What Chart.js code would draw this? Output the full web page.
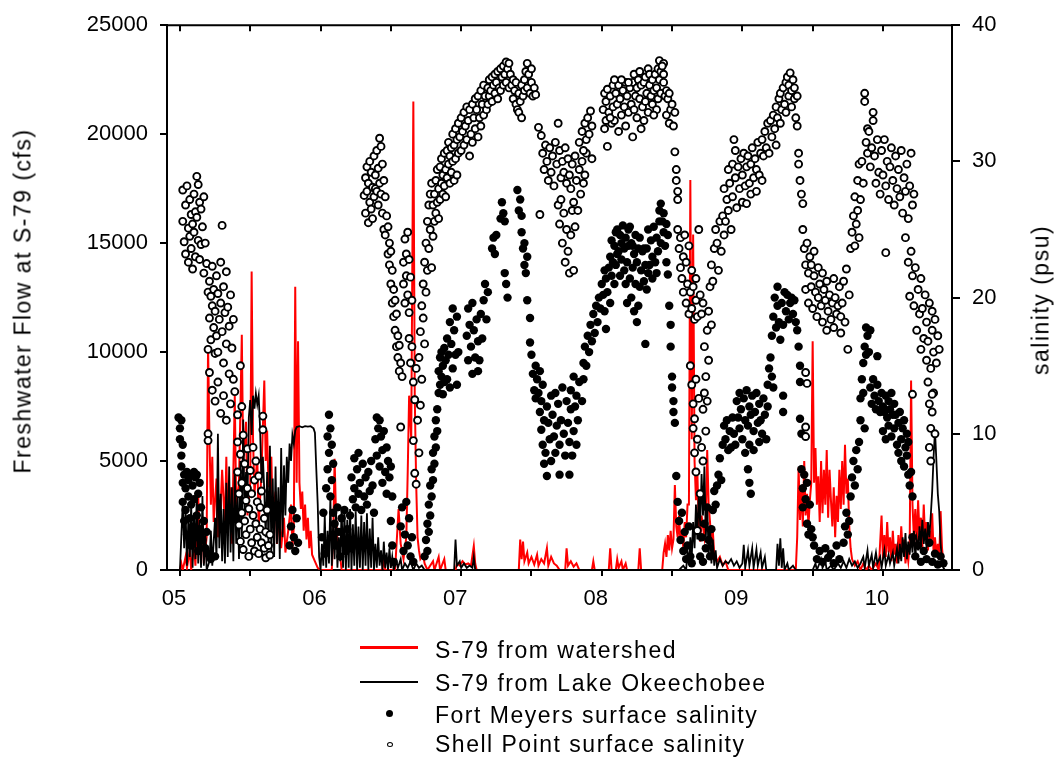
<!DOCTYPE html>
<html><head><meta charset="utf-8">
<script src="https://cdn.jsdelivr.net/npm/chart.js@4.4.1/dist/chart.umd.min.js"></script>
<style>
html,body{margin:0;padding:0;background:#fff;}
#wrap{position:relative;width:1058px;height:762px;font-family:"Liberation Sans",Arial,sans-serif;color:#000;overflow:hidden;}
#c{position:absolute;left:0;top:0;}
.txt{position:absolute;white-space:nowrap;font-size:23px;letter-spacing:1.5px;line-height:1;transform:translateY(-50%);}
.rot{position:absolute;white-space:nowrap;font-size:23px;letter-spacing:1.5px;line-height:1;transform:translate(-50%,-50%) rotate(-90deg);}
.sw{position:absolute;}
</style></head>
<body>
<div id="wrap">
<canvas id="c" width="1058" height="762"></canvas>
<div class="rot" style="left:23px;top:301px;">Freshwater Flow at S-79 (cfs)</div>
<div class="rot" style="left:1041px;top:300px;">salinity (psu)</div>
<div class="sw" style="left:360px;top:646px;width:58px;height:3px;background:#ff0000;"></div>
<div class="sw" style="left:360px;top:681px;width:58px;height:2px;background:#000;"></div>
<div class="sw" style="left:386px;top:710px;width:7px;height:7px;border-radius:50%;background:#000;"></div>
<div class="sw" style="left:387px;top:742px;width:6px;height:5px;border-radius:50%;border:1.5px solid #000;box-sizing:border-box;background:#fff;"></div>
<div class="txt" style="left:435px;top:650px;">S-79 from watershed</div>
<div class="txt" style="left:435px;top:683px;">S-79 from Lake Okeechobee</div>
<div class="txt" style="left:435px;top:715px;">Fort Meyers surface salinity</div>
<div class="txt" style="left:435px;top:744px;">Shell Point surface salinity</div>
</div>
<script>
// ---- axis ticks ----
const yearTicks = [2005,2005.5,2006,2006.5,2007,2007.5,2008,2008.5,2009,2009.5,2010];
const yearLabels = ['05','06','07','08','09','10'];
const flowTicks = [0,5000,10000,15000,20000,25000];
const salinityTicks = [0,10,20,30,40];

// ---- S-79 flow from watershed [decimal year, cfs] ----
const watershedFlow = [
[2005.00,0],[2005.01,300],[2005.02,0],[2005.04,600],[2005.05,100],[2005.07,900],[2005.08,0],[2005.10,1200],[2005.11,200],[2005.13,3500],[2005.14,800],[2005.16,2000],[2005.17,300],[2005.19,1500],[2005.20,10300],[2005.21,6000],[2005.22,3000],[2005.23,5200],[2005.24,2200],[2005.26,4200],[2005.27,1500],[2005.29,3000],[2005.30,4600],[2005.32,2000],[2005.33,5200],[2005.34,1800],[2005.36,3800],[2005.37,1200],[2005.39,8000],[2005.40,3000],[2005.42,4000],[2005.44,10800],[2005.45,5000],[2005.47,6800],[2005.48,2500],[2005.50,4000],[2005.51,13700],[2005.52,6000],[2005.53,3500],[2005.55,5200],[2005.56,2000],[2005.58,4500],[2005.60,8700],[2005.61,5000],[2005.62,6400],[2005.63,3800],[2005.65,5200],[2005.66,2500],[2005.68,3600],[2005.69,1200],[2005.71,2800],[2005.72,1000],[2005.74,2400],[2005.75,800],[2005.77,1800],[2005.79,3000],[2005.80,1000],[2005.81,2000],[2005.82,13000],[2005.83,4000],[2005.84,10500],[2005.85,4000],[2005.86,2800],[2005.87,3600],[2005.88,1800],[2005.89,3000],[2005.90,1400],[2005.91,2400],[2005.92,1000],[2005.93,1800],[2005.94,700],[2005.96,400],[2005.98,100],[2006.00,0],
[2006.08,0],[2006.09,1500],[2006.10,5100],[2006.11,2500],[2006.12,1400],[2006.14,600],[2006.15,0],[2006.44,0],[2006.45,650],[2006.46,0],[2006.53,0],[2006.555,2800],[2006.57,1200],[2006.59,500],[2006.61,1500],[2006.62,4500],[2006.63,8000],[2006.645,6000],[2006.66,21500],[2006.67,8000],[2006.68,4000],[2006.69,1500],[2006.70,900],[2006.71,500],[2006.73,700],[2006.74,300],[2006.76,0],[2006.80,400],[2006.81,0],[2006.84,600],[2006.85,0],[2006.88,500],[2006.89,0],[2006.96,0],[2006.97,300],[2006.99,200],[2007.01,400],[2007.03,250],[2007.05,300],[2007.07,200],[2007.09,1100],[2007.10,300],[2007.11,0],
[2007.41,0],[2007.42,1400],[2007.43,500],[2007.44,1300],[2007.45,400],[2007.47,800],[2007.48,300],[2007.50,600],[2007.52,250],[2007.54,700],[2007.55,200],[2007.57,500],[2007.59,300],[2007.61,1000],[2007.62,200],[2007.64,600],[2007.66,300],[2007.68,200],[2007.70,0],[2007.74,0],[2007.75,1000],[2007.76,200],[2007.78,400],[2007.80,150],[2007.82,300],[2007.84,0],[2007.93,0],[2007.94,400],[2007.95,0],
[2008.05,0],[2008.06,1000],[2008.07,0],[2008.10,0],[2008.11,500],[2008.12,100],[2008.14,400],[2008.15,0],[2008.17,300],[2008.18,0],[2008.26,0],[2008.27,1000],[2008.28,0],[2008.43,0],[2008.44,800],[2008.45,1200],[2008.46,600],[2008.47,1600],[2008.48,900],[2008.49,1800],[2008.50,1000],[2008.51,1400],[2008.52,3900],[2008.53,2000],[2008.54,1500],[2008.55,2500],[2008.56,1200],[2008.57,1800],[2008.58,1000],[2008.59,2200],[2008.60,1500],[2008.61,3000],[2008.62,3000],[2008.63,17900],[2008.64,6000],[2008.65,15400],[2008.66,5000],[2008.67,3200],[2008.68,4500],[2008.69,2000],[2008.70,1300],[2008.71,2500],[2008.73,1500],[2008.74,2200],[2008.75,5500],[2008.76,3000],[2008.77,2200],[2008.78,1200],[2008.79,1800],[2008.80,700],[2008.82,400],[2008.84,600],[2008.86,200],[2008.88,400],[2008.90,0],
[2009.38,0],[2009.39,1500],[2009.40,4700],[2009.41,2300],[2009.42,3800],[2009.43,2000],[2009.44,5000],[2009.45,2500],[2009.46,3500],[2009.47,2000],[2009.48,3200],[2009.49,4000],[2009.50,10500],[2009.51,4000],[2009.52,5600],[2009.53,3000],[2009.54,4300],[2009.55,2200],[2009.56,5000],[2009.57,2600],[2009.58,4600],[2009.59,3000],[2009.60,5500],[2009.61,2400],[2009.62,4600],[2009.63,3200],[2009.64,2000],[2009.65,3800],[2009.66,1500],[2009.67,3400],[2009.68,2200],[2009.69,4600],[2009.70,2800],[2009.71,5000],[2009.72,3000],[2009.73,5750],[2009.74,3500],[2009.75,4200],[2009.76,2000],[2009.77,1000],[2009.78,500],[2009.80,200],[2009.82,400],[2009.84,0],[2009.86,300],[2009.88,0],[2009.90,200],[2009.92,0],[2009.95,300],[2009.97,0],[2009.99,2500],
[2010.00,500],[2010.01,1600],[2010.02,600],[2010.03,2200],[2010.04,800],[2010.05,1500],[2010.06,400],[2010.07,1800],[2010.08,700],[2010.09,1200],[2010.10,300],[2010.11,1600],[2010.12,500],[2010.13,2000],[2010.14,800],[2010.15,1400],[2010.16,300],[2010.17,900],[2010.18,400],[2010.19,1200],[2010.20,8700],[2010.21,3000],[2010.22,1500],[2010.23,2800],[2010.24,1200],[2010.25,3200],[2010.26,1600],[2010.27,2400],[2010.28,1000],[2010.29,3000],[2010.30,1400],[2010.31,2200],[2010.32,900],[2010.33,1800],[2010.34,1100],[2010.35,2600],[2010.36,800],[2010.37,1500],[2010.38,600],[2010.39,1200],[2010.40,500],[2010.41,2700],[2010.42,1000],[2010.43,300]
];

// ---- S-79 flow from Lake Okeechobee [decimal year, cfs] ----
const lakeFlow = [
[2005.00,0],[2005.02,3100],[2005.03,1000],[2005.04,2800],[2005.05,200],[2005.06,2400],[2005.07,600],[2005.08,3000],[2005.09,100],[2005.10,2600],[2005.11,500],[2005.12,3600],[2005.13,300],[2005.14,2300],[2005.15,100],[2005.16,3400],[2005.17,200],[2005.18,1800],[2005.19,0],[2005.21,400],[2005.22,1800],[2005.23,200],[2005.25,2400],[2005.26,500],[2005.27,6250],[2005.28,1000],[2005.29,3500],[2005.30,400],[2005.31,2800],[2005.32,300],[2005.33,4000],[2005.34,600],[2005.35,4750],[2005.36,800],[2005.37,3800],[2005.38,400],[2005.39,4600],[2005.40,1200],[2005.41,3500],[2005.42,500],[2005.43,5000],[2005.44,1500],[2005.45,6900],[2005.46,2500],[2005.47,4500],[2005.48,3000],[2005.49,7000],[2005.50,7800],[2005.51,6200],[2005.52,8000],[2005.53,7400],[2005.54,8100],[2005.55,7600],[2005.56,8000],[2005.57,6500],[2005.58,4000],[2005.59,5200],[2005.60,3600],[2005.61,1500],[2005.62,4500],[2005.63,1000],[2005.64,5700],[2005.65,800],[2005.66,4200],[2005.67,600],[2005.68,4750],[2005.69,1200],[2005.70,3800],[2005.71,500],[2005.72,5600],[2005.73,1500],[2005.74,4800],[2005.75,2500],[2005.76,5200],[2005.77,4000],[2005.78,5800],[2005.79,5000],[2005.80,6200],[2005.81,5800],[2005.82,6400],[2005.83,6560],[2005.85,6600],[2005.87,6550],[2005.89,6600],[2005.91,6580],[2005.93,6600],[2005.95,6500],[2005.96,6300],[2005.97,4600],[2005.98,3000],[2005.99,600],[2006.00,0],
[2006.01,1200],[2006.02,200],[2006.03,2500],[2006.04,100],[2006.05,1800],[2006.06,300],[2006.07,3300],[2006.08,200],[2006.09,2200],[2006.10,500],[2006.11,2800],[2006.12,100],[2006.13,1500],[2006.14,400],[2006.15,2900],[2006.16,100],[2006.17,2600],[2006.18,0],[2006.19,2300],[2006.20,100],[2006.21,2800],[2006.22,0],[2006.23,2100],[2006.24,200],[2006.25,2700],[2006.26,0],[2006.27,2000],[2006.28,100],[2006.29,2500],[2006.30,0],[2006.31,2200],[2006.32,200],[2006.33,2600],[2006.34,0],[2006.35,1900],[2006.36,100],[2006.37,2400],[2006.38,0],[2006.39,1200],[2006.40,100],[2006.41,1500],[2006.42,200],[2006.43,900],[2006.44,0],[2006.45,1300],[2006.46,100],[2006.47,800],[2006.48,0],[2006.49,1000],[2006.50,100],[2006.51,600],[2006.52,0],[2006.54,400],[2006.55,100],[2006.57,500],[2006.58,0],[2006.60,300],[2006.62,100],[2006.64,400],[2006.66,0],[2006.68,300],[2006.70,100],[2006.72,200],[2006.74,0],[2006.95,0],[2006.96,1400],[2006.97,200],[2006.99,400],[2007.00,100],[2007.02,300],[2007.04,100],[2007.06,200],[2007.08,100],[2007.09,600],[2007.10,0],
[2008.55,0],[2008.58,200],[2008.60,0],[2008.61,800],[2008.62,300],[2008.63,1500],[2008.64,600],[2008.65,2200],[2008.66,1000],[2008.67,3000],[2008.68,1400],[2008.69,3600],[2008.70,2000],[2008.71,4400],[2008.72,2500],[2008.73,4750],[2008.74,1500],[2008.75,3000],[2008.76,600],[2008.77,2000],[2008.78,300],[2008.79,1400],[2008.80,200],[2008.81,900],[2008.82,100],[2008.84,500],[2008.86,200],[2008.88,400],[2008.90,300],[2008.92,500],[2008.94,200],[2008.96,400],[2008.98,100],
[2009.00,300],[2009.01,1160],[2009.02,100],[2009.04,900],[2009.05,200],[2009.07,1000],[2009.08,100],[2009.10,950],[2009.11,200],[2009.13,800],[2009.14,100],[2009.16,600],[2009.17,0],[2009.24,0],[2009.25,1200],[2009.26,200],[2009.27,1450],[2009.28,100],[2009.29,1000],[2009.30,0],[2009.32,300],[2009.33,0],[2009.36,200],[2009.38,0],[2009.50,0],[2009.52,300],[2009.53,0],[2009.56,500],[2009.57,100],[2009.59,400],[2009.60,0],[2009.63,200],[2009.65,0],[2009.68,300],[2009.70,100],[2009.72,400],[2009.74,100],[2009.76,500],[2009.78,200],[2009.80,400],[2009.82,100],[2009.84,300],[2009.86,600],[2009.87,100],[2009.89,900],[2009.90,200],[2009.92,700],[2009.93,100],[2009.95,800],[2009.96,300],[2009.98,600],[2009.99,100],
[2010.01,900],[2010.02,200],[2010.04,700],[2010.05,300],[2010.07,800],[2010.08,200],[2010.10,1000],[2010.11,300],[2010.12,1200],[2010.13,400],[2010.14,1500],[2010.15,600],[2010.16,1700],[2010.17,500],[2010.18,1300],[2010.19,700],[2010.20,1600],[2010.21,800],[2010.22,1800],[2010.23,600],[2010.24,1400],[2010.25,900],[2010.26,2000],[2010.27,1100],[2010.28,2300],[2010.29,1200],[2010.30,1900],[2010.31,1000],[2010.32,2200],[2010.33,1500],[2010.34,2500],[2010.35,3600],[2010.36,5200],[2010.37,6400],[2010.38,5000],[2010.39,3500],[2010.40,2700],[2010.41,1200],[2010.42,400],[2010.43,100],[2010.44,0]
];

// ---- Fort Meyers surface salinity [decimal year, psu] ----
const fortMyers = [
[2004.99,11.2],[2005.00,10.4],[2005.00,9.6],[2005.01,11.0],[2005.02,9.2],[2005.01,8.4],[2005.01,7.6],[2005.02,6.4],[2005.02,5.0],[2005.03,7.0],[2005.03,3.6],[2005.04,6.0],[2005.04,4.4],[2005.05,7.2],[2005.05,2.6],[2005.06,5.4],[2005.06,6.6],[2005.07,3.8],[2005.07,7.0],[2005.08,4.8],[2005.08,1.8],[2005.09,6.2],[2005.09,3.2],[2005.10,7.2],[2005.10,5.2],[2005.11,2.4],[2005.11,6.8],[2005.12,4.0],[2005.12,7.0],[2005.13,5.6],[2005.13,1.4],[2005.14,6.4],[2005.14,3.0],[2005.15,4.6],[2005.16,2.2],[2005.17,3.6],[2005.18,1.6],[2005.19,2.8],[2005.20,1.2],[2005.22,0.8],[2005.25,1.0],[2005.78,1.8],[2005.79,3.2],[2005.80,4.4],[2005.81,2.4],[2005.82,1.4],[2005.83,3.8],[2005.84,2.0],
[2006.04,6.0],[2006.05,9.8],[2006.05,7.4],[2006.06,11.4],[2006.06,8.6],[2006.07,10.4],[2006.07,5.4],[2006.08,9.2],[2006.08,6.6],[2006.09,4.2],[2006.09,7.8],[2006.01,2.4],[2006.02,4.2],[2006.03,1.2],[2006.10,3.4],[2006.11,1.8],[2006.12,4.6],[2006.13,2.8],[2006.14,1.0],[2006.15,3.8],[2006.16,2.0],[2006.17,4.4],[2006.18,1.4],[2006.19,3.0],[2006.20,2.2],[2006.21,4.0],[2006.22,1.6],
[2006.22,6.8],[2006.23,5.2],[2006.24,8.2],[2006.24,6.0],[2006.25,4.6],[2006.26,7.4],[2006.27,5.6],[2006.27,8.6],[2006.28,6.4],[2006.29,4.4],[2006.30,7.8],[2006.31,5.4],[2006.32,6.8],[2006.33,4.8],[2006.34,7.2],[2006.35,5.8],[2006.36,8.0],[2006.37,6.2],[2006.38,4.2],
[2006.39,9.6],[2006.40,11.2],[2006.40,8.4],[2006.41,10.4],[2006.42,11.0],[2006.42,7.6],[2006.43,9.8],[2006.44,8.8],[2006.44,6.4],[2006.45,10.2],[2006.46,7.2],[2006.47,9.0],[2006.47,5.6],[2006.48,8.0],[2006.49,6.8],[2006.50,7.6],[2006.51,5.4],[2006.50,3.6],[2006.51,1.8],[2006.52,0.6],
[2006.57,3.2],[2006.58,4.6],[2006.59,1.4],[2006.60,2.6],[2006.61,5.0],[2006.62,1.8],[2006.63,3.8],[2006.64,1.0],[2006.65,2.4],[2006.66,0.6],
[2006.74,1.0],[2006.75,2.2],[2006.76,3.4],[2006.76,1.4],[2006.77,4.8],[2006.77,2.8],[2006.78,6.2],[2006.78,4.0],[2006.79,7.4],[2006.79,5.4],[2006.80,8.6],[2006.80,6.6],[2006.81,9.8],[2006.81,7.8],[2006.82,11.0],[2006.82,9.0],[2006.83,11.8],[2006.83,10.2],
[2006.84,13.0],[2006.84,14.6],[2006.85,15.6],[2006.85,13.6],[2006.86,16.0],[2006.86,14.2],[2006.87,12.9],[2006.87,15.0],[2006.88,16.3],[2006.88,13.8],[2006.89,15.4],[2006.90,14.0],[2006.90,17.0],[2006.91,15.8],[2006.92,13.4],[2006.92,18.2],[2006.93,16.6],[2006.94,19.2],[2006.94,14.8],[2006.95,17.6],[2006.96,15.8],[2006.97,13.6],[2006.97,18.6],[2006.98,16.0],
[2007.04,17.2],[2007.05,19.2],[2007.05,15.4],[2007.06,18.0],[2007.07,16.4],[2007.08,19.6],[2007.08,14.4],[2007.09,17.6],[2007.10,15.6],[2007.11,18.4],[2007.12,16.8],[2007.12,14.6],[2007.13,15.4],[2007.14,18.8],[2007.15,17.0],[2007.16,19.8],[2007.17,21.0],[2007.18,18.4],[2007.19,20.4],
[2007.22,23.6],[2007.23,24.4],[2007.24,23.2],[2007.25,24.6],[2007.28,25.8],[2007.29,27.0],[2007.30,26.2],[2007.31,25.6],[2007.31,21.8],[2007.32,21.0],[2007.33,20.0],[2007.40,27.9],[2007.41,26.4],[2007.42,27.2],[2007.43,26.0],
[2007.43,24.8],[2007.44,23.6],[2007.45,22.4],[2007.45,24.0],[2007.46,21.8],[2007.47,23.0],[2007.47,19.8],[2007.49,18.5],[2007.49,16.7],[2007.50,15.8],
[2007.51,14.4],[2007.52,13.2],[2007.53,15.0],[2007.53,12.6],[2007.54,14.0],[2007.55,13.0],[2007.56,11.6],[2007.56,14.6],[2007.57,12.4],[2007.57,10.3],[2007.58,9.2],[2007.58,13.6],[2007.59,11.0],[2007.59,7.8],[2007.60,8.6],[2007.61,12.0],[2007.61,6.9],[2007.62,10.8],[2007.63,9.6],[2007.64,12.8],[2007.64,8.0],
[2007.65,11.4],[2007.66,9.8],[2007.67,13.0],[2007.67,8.6],[2007.68,10.6],[2007.69,12.2],[2007.70,9.2],[2007.70,7.0],[2007.71,11.0],[2007.72,13.4],[2007.73,10.0],[2007.74,8.4],[2007.75,12.4],[2007.76,10.8],[2007.77,9.4],
[2007.77,7.0],[2007.78,11.8],[2007.79,8.4],[2007.80,10.2],[2007.81,12.0],[2007.82,9.2],[2007.83,11.0],[2007.78,13.2],[2007.80,14.2],[2007.82,12.8],[2007.84,13.8],[2007.86,12.4],[2007.87,14.0],
[2007.87,15.2],[2007.88,16.4],[2007.89,15.0],[2007.90,17.2],[2007.91,16.0],[2007.92,18.0],[2007.93,16.8],[2007.94,18.8],[2007.95,17.4],[2007.96,19.4],[2007.97,18.2],
[2007.98,20.0],[2007.99,19.2],[2008.00,21.0],[2008.01,20.2],[2008.02,22.0],[2008.02,19.0],[2008.03,21.4],[2008.04,20.4],[2008.05,22.2],[2008.06,19.6],[2008.03,17.7],
[2008.06,23.0],[2008.07,24.2],[2008.08,22.6],[2008.09,23.8],[2008.10,24.8],[2008.07,21.6],[2008.09,21.0],[2008.11,23.2],[2008.14,24.0],[2008.16,22.0],[2008.19,25.0],[2008.22,23.8],[2008.27,24.4],[2008.30,23.6],[2008.33,21.8],[2008.36,21.4],[2008.39,21.8],[2008.42,24.0],[2008.46,25.4],[2008.47,24.6],
[2008.10,22.4],[2008.11,25.0],[2008.12,23.4],[2008.13,21.6],[2008.13,24.6],[2008.14,22.8],[2008.15,25.3],[2008.16,23.6],[2008.17,21.0],[2008.17,24.4],[2008.18,22.6],[2008.19,23.8],[2008.20,25.2],[2008.20,21.4],[2008.21,24.0],[2008.22,22.2],[2008.23,23.2],[2008.24,21.0],[2008.24,24.6],[2008.25,22.6],[2008.26,23.6],[2008.27,20.8],[2008.28,22.0],[2008.29,23.4],[2008.30,21.2],[2008.31,22.4],[2008.32,20.6],
[2008.18,19.6],[2008.21,20.0],[2008.23,19.0],[2008.26,19.4],[2008.31,16.6],[2008.25,18.2],
[2008.32,23.6],[2008.33,25.0],[2008.34,22.4],[2008.35,24.2],[2008.36,23.0],[2008.37,25.2],[2008.38,22.6],[2008.39,24.4],[2008.40,23.4],[2008.41,25.6],[2008.41,26.4],[2008.42,26.9],[2008.43,25.6],[2008.44,24.8],[2008.44,26.2],
[2008.45,23.8],[2008.46,22.6],[2008.47,21.7],[2008.48,19.4],[2008.49,18.0],[2008.49,16.4],[2008.50,14.2],[2008.50,13.4],[2008.51,12.4],[2008.51,11.6],[2008.52,10.8],[2008.53,6.9],
[2008.54,5.0],[2008.55,3.6],[2008.56,2.2],[2008.57,4.2],[2008.58,1.4],[2008.59,2.8],[2008.60,0.8],[2008.61,1.8],[2008.62,3.2],[2008.63,1.0],[2008.64,0.5],
[2008.70,1.0],[2008.71,2.4],[2008.72,0.6],[2008.73,3.4],[2008.74,1.6],[2008.75,4.6],[2008.76,2.2],[2008.77,1.0],[2008.78,3.0],[2008.79,4.4],[2008.80,5.8],[2008.81,4.8],[2008.82,6.2],[2008.83,7.0],[2008.84,8.2],[2008.85,6.6],
[2008.86,9.2],[2008.87,10.6],[2008.88,9.6],[2008.89,11.0],[2008.90,8.8],[2008.91,10.2],[2008.92,9.0],[2008.93,11.2],[2008.94,10.0],[2008.95,9.2],
[2008.96,12.4],[2008.97,11.2],[2008.98,10.4],[2008.98,13.0],[2008.99,11.8],[2009.00,9.6],[2009.01,12.6],[2009.02,11.0],[2009.02,8.6],[2009.03,13.2],[2009.04,10.6],[2009.05,12.0],[2009.05,9.2],[2009.06,11.4],[2009.07,12.8],[2009.08,10.2],[2009.08,8.8],[2009.09,11.6],[2009.10,13.0],[2009.11,10.8],[2009.12,9.4],[2009.12,12.2],[2009.13,11.0],[2009.14,10.0],[2009.15,12.6],[2009.16,11.4],[2009.17,9.6],[2009.18,12.0],
[2009.04,7.4],[2009.05,6.4],[2009.06,5.6],
[2009.18,13.6],[2009.19,14.8],[2009.20,15.6],[2009.21,14.2],[2009.22,13.4],
[2009.21,17.2],[2009.22,18.6],[2009.23,20.0],[2009.24,17.8],[2009.25,19.4],[2009.25,20.8],[2009.26,18.2],[2009.27,16.9],[2009.28,19.6],[2009.29,18.0],[2009.30,20.4],
[2009.31,19.0],[2009.32,20.2],[2009.33,18.4],[2009.34,19.6],[2009.35,20.0],[2009.36,18.8],[2009.37,19.8],[2009.38,18.2],[2009.39,17.6],[2009.40,16.4],[2009.41,15.0],[2009.29,12.8],[2009.29,11.6],
[2009.41,13.8],[2009.41,11.1],[2009.42,10.0],
[2009.42,7.4],[2009.43,6.0],[2009.43,4.6],[2009.44,7.0],[2009.45,5.2],[2009.46,3.4],[2009.46,6.4],[2009.47,2.6],[2009.48,4.8],[2009.49,3.0],[2009.50,2.4],
[2009.51,1.8],[2009.53,0.8],[2009.55,1.4],[2009.57,0.6],[2009.59,1.6],[2009.61,0.9],[2009.63,1.2],[2009.65,0.5],[2009.67,1.8],[2009.69,0.8],
[2009.72,2.0],[2009.73,3.2],[2009.74,4.2],[2009.75,2.6],[2009.76,3.6],[2009.77,5.4],[2009.78,6.8],[2009.79,8.0],[2009.80,6.2],[2009.81,8.8],[2009.82,7.4],
[2009.83,9.4],[2009.84,11.0],[2009.84,12.6],[2009.85,14.0],[2009.86,15.2],[2009.86,13.0],[2009.87,10.4],
[2009.87,16.4],[2009.88,17.8],[2009.88,15.8],[2009.89,17.2],[2009.90,16.0],[2009.91,17.6],[2009.96,15.7],
[2009.91,13.4],[2009.92,12.2],[2009.93,14.0],[2009.94,12.8],[2009.95,11.8],[2009.96,13.6],[2009.97,12.4],[2009.98,11.6],[2009.99,13.0],[2010.00,12.0],[2010.01,11.6],[2010.02,12.8],[2010.03,11.2],[2010.04,12.4],[2010.05,11.8],[2010.06,13.0],[2010.07,11.4],[2010.08,12.2],
[2010.00,10.2],[2010.02,9.6],[2010.04,10.6],[2010.06,9.8],[2010.08,10.4],[2010.09,11.4],[2010.10,9.2],[2010.11,10.8],[2010.12,11.6],[2010.13,9.6],[2010.14,10.4],[2010.15,11.0],[2010.16,9.0],[2010.17,10.0],[2010.18,9.4],
[2010.11,8.6],[2010.13,8.0],[2010.15,7.6],[2010.17,8.4],[2010.18,7.0],[2010.19,6.2],[2010.20,7.2],[2010.21,5.4],
[2010.21,2.4],[2010.23,1.0],[2010.25,1.8],[2010.27,0.6],[2010.29,1.4],[2010.31,0.8],[2010.33,2.0],[2010.35,0.6],[2010.37,1.2],[2010.39,0.4],[2010.41,1.0],[2010.43,0.5]
];

// ---- Shell Point surface salinity [decimal year, psu] ----
const shellPoint = [
[2005.02,27.9],[2005.02,25.6],[2005.03,24.1],[2005.04,26.8],[2005.04,23.2],[2005.05,28.2],[2005.06,25.1],[2005.06,22.6],[2005.07,27.2],[2005.07,24.5],[2005.08,26.1],[2005.08,23.6],[2005.09,25.4],[2005.09,22.1],[2005.10,27.6],[2005.10,24.8],[2005.11,26.3],[2005.11,23.0],[2005.12,28.9],[2005.12,25.9],[2005.13,28.3],[2005.13,24.2],[2005.14,27.0],[2005.14,22.8],[2005.15,26.5],[2005.15,23.9],[2005.16,25.2],[2005.17,27.4],[2005.17,21.8],[2005.18,24.0],[2005.19,22.5],[2005.20,20.4],[2005.20,10.0],[2005.20,9.5],
[2005.21,21.2],[2005.21,18.5],[2005.22,20.1],[2005.22,16.9],[2005.23,19.4],[2005.23,22.3],[2005.24,17.8],[2005.24,20.6],[2005.25,15.9],[2005.25,19.0],[2005.26,21.6],[2005.26,17.2],[2005.27,20.3],[2005.27,16.0],[2005.28,18.4],[2005.29,22.6],[2005.29,19.6],[2005.30,25.3],[2005.30,17.5],[2005.31,20.8],[2005.31,15.2],[2005.32,18.9],[2005.33,21.9],[2005.33,16.6],[2005.34,19.3],[2005.35,14.4],[2005.35,17.9],[2005.36,20.2],[2005.37,16.3],[2005.38,14.0],[2005.38,18.4],
[2005.20,16.2],[2005.21,14.5],[2005.23,13.2],[2005.25,12.4],[2005.27,13.8],[2005.29,11.5],[2005.31,12.8],[2005.33,11.0],[2005.36,12.2],[2005.39,13.1],[2005.41,11.4],[2005.43,15.0],[2005.44,12.0],
[2005.41,9.4],[2005.41,7.2],[2005.42,5.6],[2005.42,3.3],[2005.43,8.5],[2005.43,2.1],[2005.44,6.4],[2005.44,4.2],[2005.45,9.9],[2005.45,1.5],[2005.46,7.8],[2005.46,3.6],[2005.47,5.1],[2005.47,2.6],[2005.48,8.9],[2005.48,6.0],[2005.49,4.5],[2005.49,1.0],[2005.50,7.3],[2005.50,3.0],[2005.51,5.6],[2005.51,2.0],[2005.52,9.0],[2005.52,4.0],[2005.53,6.6],[2005.53,1.4],[2005.54,3.4],[2005.54,8.0],[2005.55,5.0],[2005.55,2.4],[2005.56,6.9],[2005.56,1.2],[2005.57,4.6],[2005.57,3.0],[2005.58,2.0],[2005.58,5.8],[2005.59,11.3],[2005.59,10.3],[2005.60,3.8],[2005.60,1.6],[2005.61,2.8],[2005.61,0.9],[2005.62,4.4],[2005.63,1.8],[2005.64,2.6],[2005.64,1.1],
[2006.31,27.5],[2006.32,28.8],[2006.32,26.2],[2006.33,29.6],[2006.33,27.8],[2006.34,25.5],[2006.34,28.4],[2006.35,30.0],[2006.35,27.0],[2006.36,29.2],[2006.36,26.5],[2006.37,28.1],[2006.37,25.8],[2006.38,30.4],[2006.38,27.4],[2006.39,29.0],[2006.39,28.0],[2006.40,30.8],[2006.40,27.8],[2006.41,29.5],[2006.41,26.8],[2006.42,31.7],[2006.42,28.4],[2006.43,31.1],[2006.43,27.6],[2006.44,29.8],[2006.44,26.2],[2006.45,28.6],[2006.45,25.0],[2006.46,27.4],[2006.46,24.6],[2006.47,26.0],[2006.48,25.2],[2006.48,23.2],
[2006.49,24.0],[2006.49,22.4],[2006.50,23.4],[2006.50,21.0],[2006.51,22.0],[2006.51,19.6],[2006.52,20.6],[2006.52,18.6],[2006.53,19.8],[2006.53,17.6],[2006.54,16.4],[2006.54,18.8],[2006.55,15.6],[2006.55,17.2],[2006.56,14.6],[2006.56,16.5],[2006.57,15.2],[2006.57,10.5],[2006.58,14.2],
[2006.59,22.6],[2006.59,21.0],[2006.60,24.3],[2006.60,19.6],[2006.61,23.2],[2006.61,21.6],[2006.62,24.8],[2006.62,20.2],[2006.63,22.8],[2006.63,18.9],[2006.64,21.5],[2006.65,19.8],
[2006.63,17.0],[2006.64,15.2],[2006.65,16.4],[2006.66,13.8],[2006.66,9.5],[2006.67,12.5],[2006.67,7.1],[2006.68,6.3],[2006.68,14.8],[2006.69,11.0],[2006.70,8.6],[2006.71,12.1],
[2006.70,15.6],[2006.71,17.5],[2006.72,19.4],[2006.72,14.0],[2006.73,21.0],[2006.73,18.5],[2006.74,22.6],[2006.74,16.6],[2006.75,24.0],[2006.75,20.4],[2006.76,25.6],[2006.76,22.0],[2006.77,26.8],[2006.77,23.6],[2006.78,27.6],[2006.78,25.0],[2006.79,28.4],[2006.79,22.2],[2006.80,26.8],[2006.80,24.5],
[2006.81,27.6],[2006.81,25.6],[2006.82,28.6],[2006.82,26.2],[2006.83,27.0],[2006.83,29.4],[2006.84,28.0],[2006.84,25.8],[2006.85,29.6],[2006.85,27.2],[2006.86,28.4],[2006.86,30.2],[2006.87,27.6],[2006.87,29.0],[2006.88,30.6],[2006.88,28.2],[2006.89,29.4],[2006.89,27.4],[2006.90,30.8],[2006.90,28.8],[2006.91,29.8],[2006.91,31.4],[2006.92,28.4],[2006.92,30.4],[2006.93,31.0],[2006.93,29.2],[2006.94,32.0],[2006.94,30.0],[2006.95,28.6],[2006.95,31.2],[2006.96,32.4],[2006.96,30.2],[2006.97,29.0],[2006.97,31.6],
[2006.98,32.8],[2006.98,30.6],[2006.99,31.8],[2007.00,33.2],[2007.00,30.8],[2007.01,32.2],[2007.02,33.6],[2007.02,31.2],[2007.03,32.6],[2007.04,34.0],[2007.04,31.6],[2007.05,33.0],[2007.06,30.4],[2007.06,33.8],[2007.07,32.0],[2007.08,34.2],[2007.08,31.4],[2007.09,33.2],[2007.10,34.6],[2007.10,32.4],[2007.11,33.8],[2007.12,31.8],[2007.12,34.8],[2007.13,33.2],[2007.14,35.2],[2007.14,32.6],[2007.15,34.2],[2007.16,35.6],[2007.16,33.4],[2007.17,34.8],[2007.18,33.8],
[2007.19,35.4],[2007.19,34.2],[2007.20,36.0],[2007.20,34.8],[2007.21,35.2],[2007.22,36.2],[2007.22,34.4],[2007.23,35.6],[2007.24,36.4],[2007.24,35.0],[2007.25,35.8],[2007.26,34.6],[2007.26,36.6],[2007.27,35.4],[2007.28,36.8],[2007.28,35.2],[2007.29,36.2],[2007.30,37.0],[2007.30,35.6],[2007.31,36.4],[2007.32,37.3],[2007.32,35.8],[2007.33,36.8],[2007.34,37.2],[2007.34,35.4],[2007.35,36.4],
[2007.36,35.6],[2007.37,36.0],[2007.37,34.6],[2007.38,35.2],[2007.39,34.2],[2007.39,35.8],[2007.40,33.8],[2007.41,35.0],[2007.41,33.6],[2007.42,34.4],[2007.43,35.6],[2007.43,33.2],[2007.44,34.8],[2007.45,36.0],[2007.45,35.2],
[2007.46,36.6],[2007.47,37.2],[2007.47,35.4],[2007.48,36.4],[2007.49,35.0],[2007.50,36.8],[2007.50,35.8],[2007.51,34.8],[2007.52,35.4],[2007.53,34.9],[2007.55,32.5],[2007.69,32.8],
[2007.57,31.9],[2007.58,30.6],[2007.59,29.4],[2007.60,31.2],[2007.61,30.0],[2007.62,28.6],[2007.63,31.0],[2007.64,29.2],[2007.65,30.4],[2007.66,28.2],[2007.67,31.4],[2007.68,29.8],[2007.70,30.8],[2007.71,28.8],[2007.72,30.0],[2007.73,29.2],[2007.74,31.0],[2007.75,28.4],[2007.76,30.2],[2007.77,29.0],[2007.56,26.1],
[2007.69,26.8],[2007.70,25.4],[2007.71,27.2],[2007.72,24.0],[2007.73,26.2],[2007.74,22.6],[2007.75,25.0],[2007.76,23.4],[2007.77,21.8],[2007.78,24.6],[2007.79,26.4],[2007.80,22.0],
[2007.78,28.0],[2007.79,29.8],[2007.80,27.0],[2007.81,30.4],[2007.81,25.2],[2007.82,28.6],[2007.83,26.4],[2007.84,29.4],[2007.85,27.6],[2007.86,30.0],[2007.87,28.4],[2007.88,29.0],[2007.89,30.6],
[2007.84,31.4],[2007.86,32.2],[2007.87,30.8],[2007.88,32.8],[2007.89,31.6],[2007.90,33.2],[2007.91,32.0],[2007.92,33.7],[2007.93,32.6],[2007.93,30.2],
[2008.01,33.8],[2008.02,35.0],[2008.02,32.4],[2008.03,34.4],[2008.04,31.1],[2008.04,35.3],[2008.05,33.6],[2008.06,34.8],[2008.07,32.8],[2008.08,35.6],[2008.08,34.0],[2008.09,33.0],[2008.10,35.0],[2008.11,34.2],[2008.12,32.2],[2008.12,35.6],[2008.13,34.6],[2008.14,33.4],[2008.15,35.2],[2008.16,34.0],[2008.17,35.8],[2008.17,32.6],[2008.18,34.8],[2008.19,33.6],[2008.20,35.4],[2008.21,34.2],[2008.22,31.8],[2008.22,35.8],[2008.23,33.8],[2008.24,34.8],
[2008.03,33.0],[2008.06,33.2],[2008.09,36.0],[2008.14,36.0],[2008.19,35.8],[2008.23,36.4],[2008.27,36.6],[2008.30,33.0],[2008.33,36.8],[2008.36,34.2],[2008.39,33.8],[2008.41,37.4],[2008.44,37.2],
[2008.25,35.4],[2008.25,33.2],[2008.26,36.0],[2008.27,34.6],[2008.28,35.6],[2008.28,32.4],[2008.29,34.0],[2008.30,35.8],[2008.31,34.4],[2008.31,36.2],[2008.32,35.0],[2008.33,33.6],[2008.34,35.6],[2008.34,36.4],[2008.35,34.8],[2008.36,36.0],[2008.37,35.2],[2008.37,33.4],[2008.38,36.4],[2008.39,35.4],[2008.40,36.8],[2008.40,34.6],[2008.41,36.0],[2008.42,35.0],[2008.42,36.6],[2008.43,37.0],[2008.44,35.8],[2008.44,36.4],[2008.45,34.8],
[2008.46,35.2],[2008.46,33.4],[2008.47,34.6],[2008.48,32.8],[2008.48,35.0],[2008.49,33.8],[2008.50,34.2],[2008.51,32.6],[2008.52,33.6],[2008.52,30.7],[2008.53,29.4],[2008.53,28.6],[2008.54,27.8],[2008.54,27.2],
[2008.54,25.0],[2008.55,23.6],[2008.56,24.4],[2008.56,22.2],[2008.57,21.4],[2008.58,23.0],[2008.58,20.4],[2008.59,24.6],[2008.60,22.6],[2008.60,19.6],[2008.61,21.0],[2008.62,23.8],[2008.62,18.8],[2008.63,20.4],[2008.64,22.0],[2008.64,19.2],[2008.65,20.8],[2008.66,18.4],[2008.67,21.4],[2008.67,19.8],[2008.68,18.6],[2008.69,25.0],[2008.70,20.2],[2008.71,18.8],[2008.72,19.6],
[2008.63,15.0],[2008.64,13.6],[2008.65,12.2],[2008.65,10.4],[2008.66,11.1],[2008.66,8.6],[2008.67,14.0],[2008.67,7.2],[2008.68,9.6],[2008.68,2.9],[2008.69,12.6],[2008.70,5.6],[2008.71,9.0],[2008.72,11.8],
[2008.72,8.0],[2008.73,13.0],[2008.73,16.4],[2008.74,14.2],[2008.74,10.2],[2008.75,17.6],[2008.75,12.4],[2008.76,19.0],[2008.76,15.4],[2008.77,20.8],[2008.78,18.0],[2008.78,22.4],[2008.79,21.2],[2008.80,23.6],[2008.81,25.0],[2008.82,24.0],[2008.83,22.0],[2008.84,25.6],
[2008.85,23.4],[2008.86,26.0],[2008.87,24.6],[2008.87,28.0],[2008.88,25.6],[2008.89,27.2],[2008.90,29.4],[2008.90,26.4],[2008.91,28.4],[2008.92,25.0],[2008.93,29.8],[2008.93,27.4],[2008.94,31.6],[2008.95,28.8],[2008.95,30.8],[2008.96,26.6],[2008.97,29.6],[2008.98,28.0],[2008.99,30.2],[2009.00,27.0],[2009.00,29.0],[2009.01,30.6],[2009.02,28.2],[2009.03,26.9],[2009.03,29.6],[2009.04,30.4],[2009.05,28.4],[2009.06,27.6],[2009.06,29.8],[2009.07,31.0],[2009.08,28.8],[2009.09,30.2],[2009.10,27.8],[2009.10,29.4],[2009.11,31.4],[2009.12,29.0],[2009.13,30.6],[2009.14,28.6],
[2009.14,31.6],[2009.15,30.4],[2009.16,32.2],[2009.17,31.0],[2009.18,32.8],[2009.19,30.6],[2009.20,33.0],[2009.21,31.8],[2009.22,33.4],[2009.23,32.4],[2009.24,34.0],[2009.24,31.2],[2009.25,33.2],[2009.26,34.6],[2009.27,32.8],[2009.27,35.0],[2009.28,33.8],[2009.29,35.4],[2009.30,34.2],[2009.31,35.8],[2009.31,33.6],[2009.32,36.2],[2009.33,34.8],[2009.33,35.6],[2009.34,36.5],[2009.35,35.2],[2009.35,34.0],[2009.36,36.0],[2009.37,35.4],[2009.37,34.6],[2009.38,33.2],[2009.39,34.8],[2009.39,32.6],
[2009.40,30.6],[2009.40,29.8],[2009.41,28.6],[2009.42,27.6],[2009.43,26.9],[2009.43,25.0],
[2009.44,23.6],[2009.45,22.4],[2009.45,20.6],[2009.46,24.0],[2009.47,21.8],[2009.47,19.6],[2009.48,23.0],[2009.49,20.8],[2009.49,22.4],[2009.50,19.2],[2009.51,21.6],[2009.51,23.4],[2009.52,20.4],[2009.53,18.6],[2009.54,22.2],[2009.54,20.0],[2009.55,21.0],[2009.56,19.4],[2009.57,18.2],[2009.57,21.8],[2009.58,20.6],[2009.59,19.8],[2009.60,17.6],[2009.60,21.2],[2009.61,19.0],[2009.62,20.2],[2009.63,18.4],[2009.64,19.6],[2009.65,21.4],[2009.65,17.8],[2009.66,20.0],[2009.67,18.8],[2009.68,19.4],[2009.69,20.8],[2009.70,17.4],[2009.70,18.6],
[2009.45,14.5],[2009.46,13.7],[2009.45,10.5],[2009.45,9.8],
[2009.71,19.6],[2009.72,21.2],[2009.73,18.2],[2009.74,22.1],[2009.75,16.2],[2009.76,20.2],[2009.77,23.6],
[2009.78,24.8],[2009.79,26.0],[2009.80,23.8],[2009.81,25.4],[2009.82,26.4],[2009.83,24.4],[2009.80,27.4],[2009.82,28.6],[2009.83,29.8],[2009.84,27.2],[2009.85,30.0],[2009.86,28.4],
[2009.87,35.0],[2009.87,34.4],[2009.88,31.4],[2009.89,32.4],[2009.93,33.6],[2009.93,33.0],
[2009.89,30.6],[2009.90,32.2],[2009.91,29.6],[2009.92,31.0],[2009.94,30.4],[2009.95,28.4],[2009.96,31.6],[2009.97,29.2],[2009.98,27.6],
[2009.99,30.8],[2010.00,29.0],[2010.01,31.6],[2010.02,28.2],[2010.03,30.0],[2010.04,27.2],[2010.05,29.6],[2010.06,31.0],[2010.07,28.6],[2010.08,26.8],[2010.09,30.4],[2010.10,28.0],[2010.11,29.4],[2010.12,27.4],[2010.13,30.8],[2010.14,26.2],[2010.15,28.8],[2010.16,27.8],[2010.17,29.8],[2010.18,25.8],[2010.19,28.2],[2010.20,30.6],[2010.21,26.8],[2010.22,27.6],[2010.02,23.3],
[2010.16,24.4],[2010.18,22.6],[2010.19,20.1],[2010.20,23.4],[2010.21,21.6],[2010.22,19.4],[2010.23,22.2],[2010.24,17.6],[2010.25,20.6],[2010.26,18.8],[2010.27,16.2],[2010.27,21.4],[2010.28,19.2],[2010.29,17.0],[2010.30,20.2],[2010.31,15.4],[2010.31,18.2],[2010.32,16.8],[2010.33,19.6],[2010.34,14.8],[2010.35,17.6],[2010.35,19.0],[2010.36,16.0],[2010.37,18.4],[2010.38,15.2],[2010.39,17.2],[2010.40,16.2],
[2010.32,13.8],[2010.33,12.2],[2010.34,10.4],[2010.35,11.6],[2010.36,13.0],[2010.37,10.0],[2010.21,12.9],[2010.35,12.9],[2010.33,9.0],[2010.34,8.0]
];

const X_MIN = 2004.908, X_MAX = 2010.491;
const FONT = '"Liberation Sans", Arial, sans-serif';
const toXY = arr => arr.map(p => ({x: p[0], y: p[1]}));

const frameTop = {
  id: 'frameTop',
  afterDraw(chart) {
    const ctx = chart.ctx, a = chart.chartArea, xs = chart.scales.x;
    ctx.save();
    ctx.strokeStyle = '#000'; ctx.lineWidth = 2;
    ctx.beginPath();
    ctx.moveTo(a.left - 1, a.top); ctx.lineTo(a.right + 1, a.top);
    yearTicks.forEach(v => { const px = Math.round(xs.getPixelForValue(v)); ctx.moveTo(px, a.top); ctx.lineTo(px, a.top + 6); });
    ctx.stroke();
    ctx.restore();
  }
};

new Chart(document.getElementById('c'), {
  type: 'line',
  data: {
    datasets: [
      {label: 'S-79 from watershed', data: toXY(watershedFlow), xAxisID: 'x', yAxisID: 'y', borderColor: '#ff0000', borderWidth: 2, pointRadius: 0, tension: 0, fill: false, order: 4},
      {label: 'S-79 from Lake Okeechobee', data: toXY(lakeFlow), xAxisID: 'x', yAxisID: 'y', borderColor: '#000000', borderWidth: 1.8, pointRadius: 0, tension: 0, fill: false, order: 3},
      {label: 'Fort Meyers surface salinity', data: toXY(fortMyers), xAxisID: 'x', yAxisID: 'y2', showLine: false, pointRadius: 4.2, pointBorderWidth: 0, pointBackgroundColor: '#000', pointBorderColor: '#000', order: 2},
      {label: 'Shell Point surface salinity', data: toXY(shellPoint), xAxisID: 'x', yAxisID: 'y2', showLine: false, pointRadius: 3.5, pointBorderWidth: 1.9, pointBackgroundColor: '#fff', pointBorderColor: '#000', order: 1}
    ]
  },
  options: {
    responsive: false, animation: false, devicePixelRatio: 1,
    layout: {padding: {top: 18, left: 0, right: 0, bottom: 0}},
    plugins: {legend: {display: false}, tooltip: {enabled: false}},
    scales: {
      x: {
        type: 'linear', position: 'bottom', min: X_MIN, max: X_MAX,
        afterBuildTicks: s => { s.ticks = yearTicks.map(v => ({value: v})); },
        afterFit: s => { s.height = 192; },
        ticks: {autoSkip: false, maxRotation: 0, minRotation: 0, padding: 10, labelOffset: -6, color: '#000', font: {family: FONT, size: 22},
          callback: v => Number.isInteger(v) ? yearLabels[v - 2005] : ''},
        grid: {drawOnChartArea: false, drawTicks: true, tickLength: 6, color: '#000', lineWidth: 2},
        border: {display: true, color: '#000', width: 2}
      },
      y: {
        type: 'linear', position: 'left', min: 0, max: 25000,
        afterBuildTicks: s => { s.ticks = flowTicks.map(v => ({value: v})); },
        afterFit: s => { s.width = 167; },
        ticks: {padding: 12, color: '#000', font: {family: FONT, size: 22}, callback: v => String(v)},
        grid: {drawOnChartArea: false, drawTicks: true, tickLength: 7, color: '#000', lineWidth: 2},
        border: {display: true, color: '#000', width: 2}
      },
      y2: {
        type: 'linear', position: 'right', min: 0, max: 40,
        afterBuildTicks: s => { s.ticks = salinityTicks.map(v => ({value: v})); },
        afterFit: s => { s.width = 106; },
        ticks: {padding: 12, color: '#000', font: {family: FONT, size: 22}, callback: v => String(v)},
        grid: {drawOnChartArea: false, drawTicks: true, tickLength: 8, color: '#000', lineWidth: 2},
        border: {display: true, color: '#000', width: 2}
      }
    }
  },
  plugins: [frameTop]
});
</script>
</body></html>
